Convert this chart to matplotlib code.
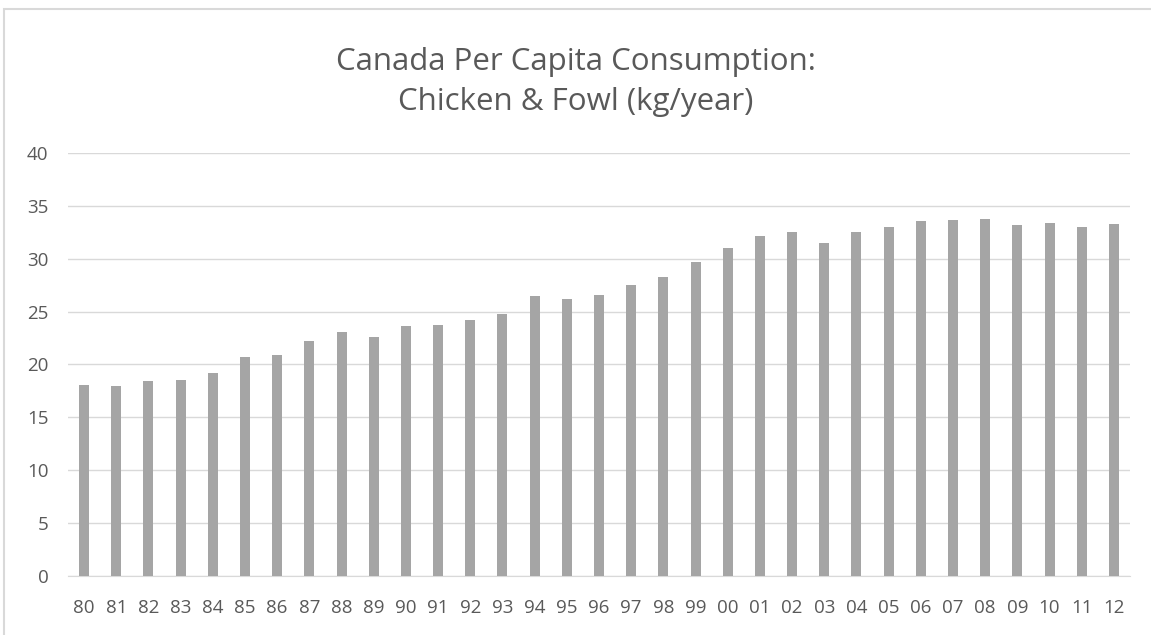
import numpy as np
import matplotlib
matplotlib.use('Agg')
import matplotlib.pyplot as plt
from matplotlib.patches import Rectangle

# years shown as two-digit labels
years = ['80', '81', '82', '83', '84', '85', '86', '87', '88', '89',
         '90', '91', '92', '93', '94', '95', '96', '97', '98', '99',
         '00', '01', '02', '03', '04', '05', '06', '07', '08', '09',
         '10', '11', '12']
# kg per person per year
consumption = [18.1, 18.0, 18.4, 18.5, 19.2, 20.7, 20.9, 22.2, 23.1, 22.6,
               23.6, 23.7, 24.2, 24.8, 26.5, 26.2, 26.6, 27.5, 28.3, 29.7,
               31.0, 32.2, 32.5, 31.5, 32.5, 33.0, 33.6, 33.7, 33.8, 33.2,
               33.4, 33.0, 33.3]
yticks = [0, 5, 10, 15, 20, 25, 30, 35, 40]

txt = '#595959'
plt.rcParams['font.family'] = ['Open Sans', 'DejaVu Sans']

fig = plt.figure(figsize=(11.51, 6.35), dpi=100)
ax = fig.add_axes([68/1151, (635-575.6)/635, (1130-68)/1151, (575.6-153.3)/635])

x = np.arange(len(years))
ax.bar(x, consumption, width=0.31, color='#a5a5a5', zorder=3)

ax.set_xlim(-0.5, len(years)-0.5)
ax.set_ylim(0, 40)
ax.set_yticks(yticks)
ax.set_xticks(x)
ax.set_xticklabels(years)
ax.grid(axis='y', color='#d9d9d9', linewidth=1, zorder=0)
for s in ['top', 'right', 'left']:
    ax.spines[s].set_visible(False)
ax.spines['bottom'].set_color('#d9d9d9')
ax.tick_params(length=0, labelsize=13.5, labelcolor=txt)
ax.tick_params(axis='x', pad=17)
ax.tick_params(axis='y', pad=14)

fig.text(0.5, 1 - 82/635, 'Canada Per Capita Consumption:\nChicken & Fowl (kg/year)',
         ha='center', va='center', fontsize=22.5, color=txt, linespacing=1.45)

# chart border
fig.patches.append(Rectangle((4/1151, -0.1), 1.2, 1 - 9/635 + 0.1, transform=fig.transFigure,
                             fill=False, edgecolor='#d9d9d9', linewidth=1.5))

fig.savefig('out.png', dpi=100)
